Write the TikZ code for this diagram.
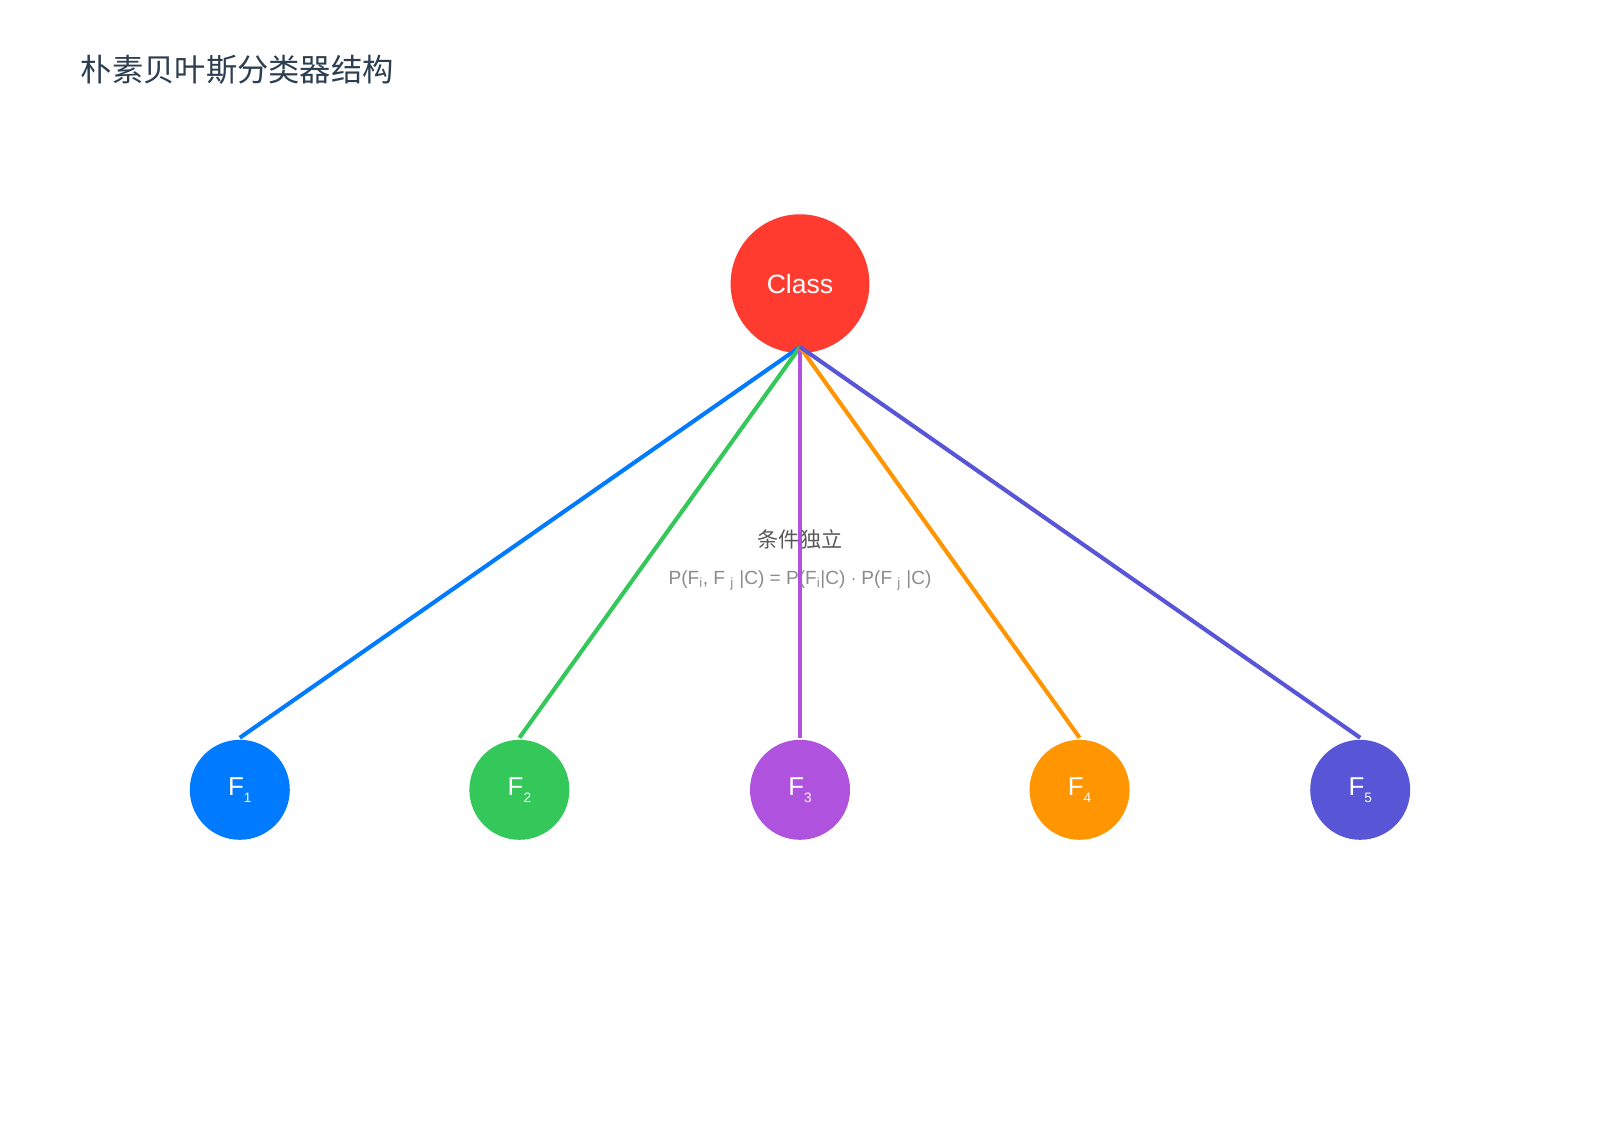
\documentclass[tikz,border=0pt]{standalone}
\usepackage{fontspec}
\setmainfont{Liberation Sans}
\newfontfamily\cjk{Noto Sans CJK SC}
\definecolor{clsred}{HTML}{FF3B30}
\definecolor{fblue}{HTML}{007AFF}
\definecolor{fgreen}{HTML}{34C759}
\definecolor{fpurple}{HTML}{AF52DE}
\definecolor{forange}{HTML}{FF9500}
\definecolor{findigo}{HTML}{5856D6}
\definecolor{titlecol}{HTML}{2C3E50}
\begin{document}
\begin{tikzpicture}[x=0.75pt,y=0.75pt,yscale=-1,xscale=1,
  featnode/.style={circle,minimum size=73.5pt,inner sep=0pt,text=white,font=\fontsize{19}{19}\selectfont},
  link/.style={line width=3pt}]
\useasboundingbox[fill=white] (0,0) rectangle (1568,1100);

% Title
\node[anchor=west,inner sep=0pt,text=titlecol,font=\cjk\fontsize{23}{23}\selectfont] (title) at (79,68) {朴素贝叶斯分类器结构};

% Labels
\node[text=black!65,font=\cjk\fontsize{15.5}{15.5}\selectfont] (indep) at (784,529) {条件独立};
\node[text=black!45,font=\fontsize{14}{14}\selectfont] (formula) at (784,569)
  {P(F\textsubscript{i}, F \textsubscript{j} |C) = P(F\textsubscript{i}|C) $\cdot$ P(F \textsubscript{j} |C)};

% Nodes
\node[circle,fill=clsred,minimum size=102pt,inner sep=0pt,text=white,font=\fontsize{19.5}{19.5}\selectfont] (cls) at (784,278) {Class};
\foreach \i/\x/\c in {1/235/fblue,2/509/fgreen,3/784/fpurple,4/1058/forange,5/1333/findigo}{
  \draw[link,\c] (784,340) -- (\x,723);
  \node[featnode,fill=\c] (f\i) at (\x,774) {F\raisebox{-0.5ex}{\fontsize{10}{10}\selectfont\i}};
}

\end{tikzpicture}
\end{document}
